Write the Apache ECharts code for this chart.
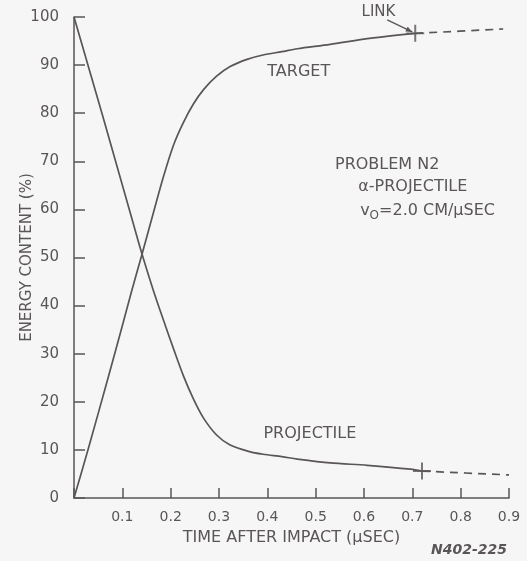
<!DOCTYPE html>
<html><head><meta charset="utf-8">
<script src="https://cdn.jsdelivr.net/npm/echarts@6/dist/echarts.min.js"></script>
<style>html,body{margin:0;padding:0;background:#f6f6f6;}#c{width:527px;height:561px;}</style>
</head><body><div id="c"></div>
<script>
// Data
var projectileSolid = [[0,100],[0.03,89.6],[0.06,79.2],[0.09,68.6],[0.12,58.0],[0.141,50.6],[0.164,43.2],[0.185,37.0],[0.206,31.0],[0.226,25.5],[0.247,20.6],[0.268,16.6],[0.295,13.1],[0.323,11.0],[0.361,9.7],[0.391,9.1],[0.43,8.6],[0.462,8.1],[0.53,7.3],[0.607,6.8],[0.696,6.0],[0.72,5.6]];
var projectileDashed = [[0.72,5.6],[0.9,4.8]];
var targetSolid = [[0,0],[0.03,10.4],[0.07,24.8],[0.1,35.8],[0.12,43.3],[0.141,50.8],[0.164,59.2],[0.185,66.8],[0.206,73.4],[0.226,78.0],[0.247,81.9],[0.268,84.9],[0.295,87.7],[0.323,89.7],[0.358,91.2],[0.391,92.1],[0.43,92.8],[0.462,93.4],[0.53,94.3],[0.607,95.5],[0.706,96.6]];
var targetDashed = [[0.706,96.6],[0.888,97.5]];
var linkPoints = [[0.706,96.6],[0.72,5.6]];
var xTicks = [0.1,0.2,0.3,0.4,0.5,0.6,0.7,0.8,0.9];
var yTicks = [0,10,20,30,40,50,60,70,80,90,100];

var ink = '#5a5556';
var font = 'DejaVu Sans';
var chart = echarts.init(document.getElementById('c'));
var plus = 'path://M-1,-9h2v8h8v2h-8v8h-2v-8h-8v-2h8z';
function lineSeries(d, dashed){
  return {type:'line', data:d, showSymbol:false, smooth:0.3, silent:true,
    lineStyle:{color:ink, width:1.7, type: dashed ? [8,6] : 'solid'}};
}
chart.setOption({
  backgroundColor:'#f6f6f6',
  animation:false,
  grid:{left:74, right:18, top:17, bottom:63, containLabel:false, outerBoundsMode:'none'},
  xAxis:{type:'value', min:0, max:0.9, interval:0.1,
    name:'TIME AFTER IMPACT (\u03bcSEC)', nameLocation:'middle', nameGap:32, nameMoveOverlap:false,
    nameTextStyle:{color:ink, fontFamily:font, fontSize:16},
    axisLine:{lineStyle:{color:ink, width:1.5}},
    axisTick:{inside:true, length:10, lineStyle:{color:ink, width:1.5}},
    axisLabel:{color:ink, fontFamily:font, fontSize:14, margin:12,
      formatter:function(v){ var r=Math.round(v*10)/10; return xTicks.indexOf(r)>=0 ? r.toFixed(1) : ''; }},
    splitLine:{show:false}},
  yAxis:{type:'value', min:0, max:100, interval:10,
    name:'ENERGY CONTENT (%)', nameLocation:'middle', nameGap:39, nameRotate:90, nameMoveOverlap:false,
    nameTextStyle:{color:ink, fontFamily:font, fontSize:15},
    axisLine:{show:true, lineStyle:{color:ink, width:1.5}},
    axisTick:{show:true, inside:true, length:11, lineStyle:{color:ink, width:1.5}},
    axisLabel:{color:ink, fontFamily:font, fontSize:15, margin:15,
      formatter:function(v){ return yTicks.indexOf(v)>=0 ? String(v) : ''; }},
    splitLine:{show:false}},
  series:[
    lineSeries(projectileSolid,false),
    lineSeries(projectileDashed,true),
    lineSeries(targetSolid,false),
    lineSeries(targetDashed,true),
    {type:'scatter', data:linkPoints, symbol:plus, symbolSize:[18,17], silent:true,
      itemStyle:{color:ink}}
  ]
});

function px(p){ return chart.convertToPixel({gridIndex:0}, p); }
var labels = [
  {t:'TARGET', at:[0.4,88.7], s:16},
  {t:'PROJECTILE', at:[0.392,13.3], s:16},
  {t:'LINK', at:[0.595,101.0], s:15},
  {t:'PROBLEM N2', at:[0.54,69.3], s:16},
  {t:'\u03b1-PROJECTILE', at:[0.588,64.6], s:16}
];
var g = [];
labels.forEach(function(l){
  var p = px(l.at);
  g.push({type:'text', x:p[0], y:p[1], style:{text:l.t, fill:ink, font:l.s+'px "DejaVu Sans"', textVerticalAlign:'middle'}});
});
var vp = px([0.592,59.8]);
g.push({type:'text', x:vp[0], y:vp[1], style:{
  text:'{a|v}{s|O}{a|=2.0 CM/\u03bcSEC}',
  textVerticalAlign:'middle',
  rich:{a:{fill:ink, font:'16px "DejaVu Sans"'}, s:{fill:ink, font:'12px "DejaVu Sans"', padding:[11,0,0,0]}}
}});
var a0 = px([0.648,99.4]), a1 = px([0.700,96.9]);
var ang = Math.atan2(a1[1]-a0[1], a1[0]-a0[0]);
g.push({type:'line', shape:{x1:a0[0], y1:a0[1], x2:a1[0], y2:a1[1]}, style:{stroke:ink, lineWidth:1.3}});
var L=7, W=0.4;
g.push({type:'polygon', shape:{points:[[a1[0],a1[1]],
  [a1[0]-L*Math.cos(ang-W), a1[1]-L*Math.sin(ang-W)],
  [a1[0]-L*Math.cos(ang+W), a1[1]-L*Math.sin(ang+W)]]}, style:{fill:ink}});
g.push({type:'text', right:20, bottom:4, style:{text:'N402-225', fill:ink, font:'italic bold 14px "DejaVu Sans"'}});
chart.setOption({graphic:g});
</script>
</body></html>
